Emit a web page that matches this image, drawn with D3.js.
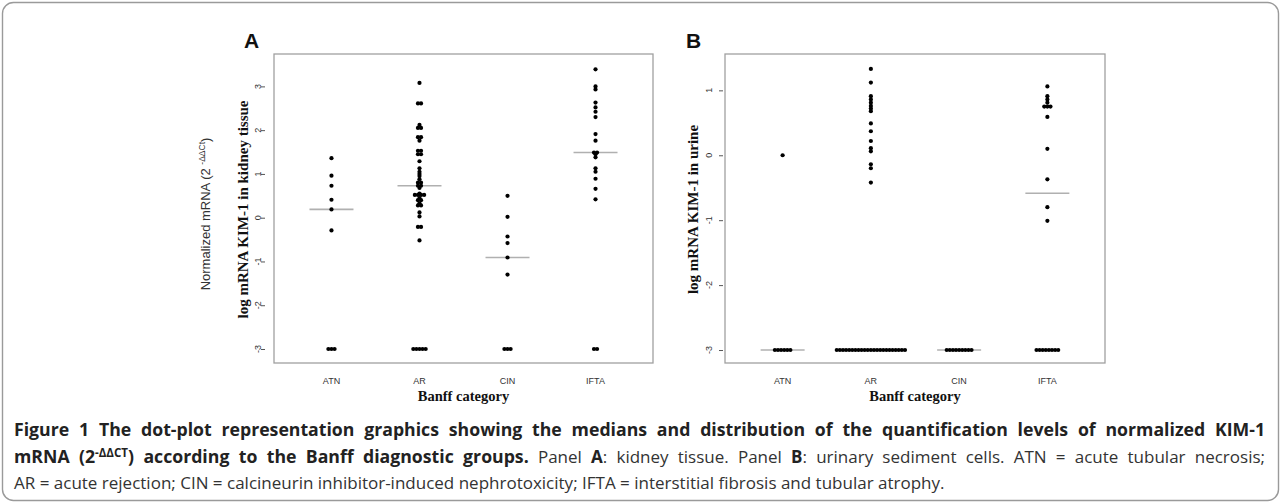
<!DOCTYPE html>
<html><head><meta charset="utf-8">
<script src="https://cdn.jsdelivr.net/npm/d3@7"></script>
<style>body{margin:0;background:#fff} svg{display:block}</style>
</head><body><svg id="c" width="1281" height="504"></svg>
<script>
const categories = ["ATN", "AR", "CIN", "IFTA"];
const tissueATN = [1.36, 0.96, 0.73, 0.41, 0.19, -0.29, -3, -3, -3];
const tissueAR = [3.08, 2.61, 2.61, 2.12, 2.05, 2.05, 1.84, 1.84, 1.76, 1.53, 1.53, 1.45, 1.45, 1.29, 1.13, 1.05, 1.00, 0.95, 0.88, 0.80, 0.80, 0.73, 0.73, 0.68, 0.55, 0.52, 0.52, 0.52, 0.52, 0.45, 0.40, 0.40, 0.33, 0.28, 0.28, 0.12, 0.03, -0.21, -0.21, -0.52, -3, -3, -3, -3, -3];
const tissueCIN = [0.50, 0.02, -0.43, -0.58, -0.91, -1.30, -3, -3, -3];
const tissueIFTA = [3.39, 3.00, 2.93, 2.63, 2.52, 2.42, 2.30, 1.91, 1.76, 1.49, 1.49, 1.45, 1.38, 1.13, 1.05, 0.89, 0.66, 0.42, -3, -3];
const urineATN = [0.0, -3, -3, -3, -3, -3, -3];
const urineAR = [1.33, 1.12, 0.91, 0.86, 0.81, 0.76, 0.72, 0.68, 0.49, 0.37, 0.22, 0.11, 0.06, -0.14, -0.20, -0.42,
  -3, -3, -3, -3, -3, -3, -3, -3, -3, -3, -3, -3, -3, -3, -3, -3, -3, -3, -3, -3, -3, -3, -3];
const urineCIN = [-3, -3, -3, -3, -3, -3, -3, -3, -3];
const urineIFTA = [1.06, 0.91, 0.86, 0.81, 0.75, 0.75, 0.75, 0.59, 0.10, -0.37, -0.80, -1.01, -3, -3, -3, -3, -3, -3, -3, -3];
const tissueTicks = [-3, -2, -1, 0, 1, 2, 3];
const urineTicks = [-3, -2, -1, 0, 1];
const tissueDomain = [-3.32, 3.74];
const urineDomain = [-3.2, 1.56];

const svg = d3.select("#c");
const serif = "'Liberation Serif','Times New Roman',serif";
const sans = "'Liberation Sans',Arial,sans-serif";
const capFont = "'Open Sans', 'Noto Sans', sans-serif";

svg.append("rect").attr("x", 2.5).attr("y", 2.5).attr("width", 1276).attr("height", 498)
  .attr("rx", 11).attr("fill", "none").attr("stroke", "#9a9a9a").attr("stroke-width", 1.4);

const panels = [
  { letter: "A", left: 274, right: 653, series: [tissueATN, tissueAR, tissueCIN, tissueIFTA], ticks: tissueTicks, domain: tissueDomain,
    ylab: "log mRNA KIM-1 in kidney tissue", ylabX: 243, tickOff: 9, letterX: 244 },
  { letter: "B", left: 725, right: 1105, series: [urineATN, urineAR, urineCIN, urineIFTA], ticks: urineTicks, domain: urineDomain,
    ylab: "log mRNA KIM-1 in urine", ylabX: 693, tickOff: 2, letterX: 686 }
];
const plotTop = 54, plotBottom = 363;
const step = 3.1, r = 2.1, medHalf = 22;

panels.forEach(p => {
  const g = svg.append("g");
  const x = d3.scalePoint().domain(categories).range([p.left, p.right]).padding(0.653);
  const y = d3.scaleLinear().domain(p.domain).range([plotBottom, plotTop]);

  g.append("rect").attr("x", p.left).attr("y", plotTop).attr("width", p.right - p.left).attr("height", plotBottom - plotTop)
    .attr("fill", "none").attr("stroke", "#a0a0a0").attr("stroke-width", 1.3);

  const ax = g.append("g").attr("transform", `translate(${p.left - p.tickOff},0)`)
    .call(d3.axisLeft(y).tickValues(p.ticks).tickSize(4).tickFormat(""));
  ax.select(".domain").remove();
  ax.selectAll("line").attr("stroke", "#555");
  g.selectAll(".ytl").data(p.ticks).join("text").attr("class", "ytl")
    .attr("transform", d => `translate(${p.left - 16},${y(d)}) rotate(-90)`)
    .attr("text-anchor", "middle").attr("dy", "0.35em")
    .attr("font-family", sans).attr("font-size", 9).attr("fill", "#333")
    .text(d => d < 0 ? "-" + Math.abs(d) : d);

  g.selectAll(".xtl").data(categories).join("text").attr("class", "xtl")
    .attr("x", d => x(d)).attr("y", 384).attr("text-anchor", "middle")
    .attr("font-family", sans).attr("font-size", 9).attr("fill", "#333").text(d => d);

  g.append("text").attr("x", (p.left + p.right) / 2).attr("y", 400.5).attr("text-anchor", "middle")
    .attr("font-family", serif).attr("font-weight", "bold").attr("font-size", 14.5).attr("fill", "#111")
    .text("Banff category");

  g.append("text").attr("transform", `translate(${p.ylabX},${(plotTop + plotBottom) / 2 + 1}) rotate(-90)`)
    .attr("text-anchor", "middle").attr("dy", "0.35em")
    .attr("font-family", serif).attr("font-weight", "bold").attr("font-size", 15).attr("fill", "#111")
    .text(p.ylab);

  g.append("text").attr("x", p.letterX).attr("y", 48)
    .attr("font-family", sans).attr("font-weight", "bold").attr("font-size", 21).attr("fill", "#111")
    .text(p.letter);

  categories.forEach((c, i) => {
    const m = d3.median(p.series[i]);
    g.append("line").attr("x1", x(c) - medHalf).attr("x2", x(c) + medHalf)
      .attr("y1", y(m)).attr("y2", y(m)).attr("stroke", "#b0b0b0").attr("stroke-width", 1.6);
  });

  categories.forEach((c, i) => {
    const groups = d3.groups(p.series[i], v => v);
    const pts = [];
    groups.forEach(([v, arr]) => arr.forEach((_, k) => pts.push({ v, off: (k - (arr.length - 1) / 2) * step })));
    g.selectAll(null).data(pts).join("circle")
      .attr("cx", d => x(c) + d.off).attr("cy", d => y(d.v)).attr("r", r).attr("fill", "#000");
  });
});

const nl = svg.append("text").attr("transform", "translate(205,214) rotate(-90)")
  .attr("text-anchor", "middle").attr("dy", "0.35em")
  .attr("font-family", sans).attr("font-size", 13).attr("fill", "#333");
nl.append("tspan").text("Normalized mRNA (2 ");
nl.append("tspan").attr("dy", -5).attr("font-size", 8.5).text("-ΔΔCt");
nl.append("tspan").attr("dy", 5).text(")");

let fs = 15;
const capColor = "#333";
const boldColor = "#222";
const l3 = svg.append("text").attr("x", 14).attr("y", 489).attr("font-family", capFont).attr("font-size", fs).attr("fill", capColor)
  .text("AR = acute rejection; CIN = calcineurin inhibitor-induced nephrotoxicity; IFTA = interstitial fibrosis and tubular atrophy.");
fs = fs * 931 / l3.node().getComputedTextLength();
l3.attr("font-size", fs);

const l1 = svg.append("text").attr("x", 14).attr("y", 436).attr("font-family", capFont).attr("font-size", fs * 1.04)
  .attr("fill", boldColor).attr("font-weight", "bold")
  .text("Figure 1 The dot-plot representation graphics showing the medians and distribution of the quantification levels of normalized KIM-1");
const l2 = svg.append("text").attr("x", 14).attr("y", 463).attr("font-family", capFont).attr("font-size", fs).attr("fill", capColor);
l2.append("tspan").attr("font-weight", "bold").attr("fill", boldColor).attr("font-size", fs * 1.04).text("mRNA (2");
l2.append("tspan").attr("font-weight", "bold").attr("fill", boldColor).attr("font-size", fs * 0.68).attr("dy", -6).text("-ΔΔCT");
l2.append("tspan").attr("font-weight", "bold").attr("fill", boldColor).attr("font-size", fs * 1.04).attr("dy", 6).text(") according to the Banff diagnostic groups.");
l2.append("tspan").text(" Panel ");
l2.append("tspan").attr("font-weight", "bold").attr("fill", boldColor).text("A");
l2.append("tspan").text(": kidney tissue. Panel ");
l2.append("tspan").attr("font-weight", "bold").attr("fill", boldColor).text("B");
l2.append("tspan").text(": urinary sediment cells. ATN = acute tubular necrosis;");

function justify(t, target) {
  const w = t.node().getComputedTextLength();
  const spaces = (t.text().match(/ /g) || []).length;
  if (spaces > 0) t.attr("word-spacing", (target - w) / spaces);
}
justify(l1, 1251);
justify(l2, 1251);
</script></body></html>
